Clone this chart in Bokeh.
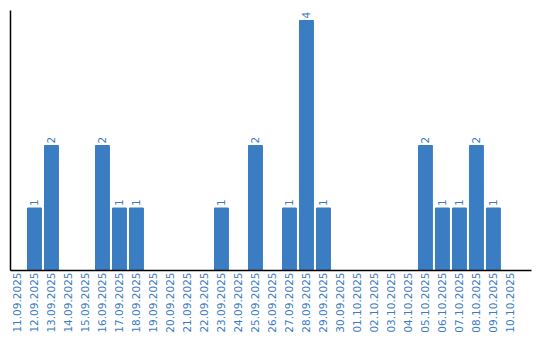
from math import pi
from bokeh.plotting import figure
from bokeh.models import ColumnDataSource, Range1d, FixedTicker
from bokeh.core.properties import value
from bokeh.embed import file_html
from bokeh.resources import INLINE

dates = ["11.09.2025", "12.09.2025", "13.09.2025", "14.09.2025", "15.09.2025",
         "16.09.2025", "17.09.2025", "18.09.2025", "19.09.2025", "20.09.2025",
         "21.09.2025", "22.09.2025", "23.09.2025", "24.09.2025", "25.09.2025",
         "26.09.2025", "27.09.2025", "28.09.2025", "29.09.2025", "30.09.2025",
         "01.10.2025", "02.10.2025", "03.10.2025", "04.10.2025", "05.10.2025",
         "06.10.2025", "07.10.2025", "08.10.2025", "09.10.2025", "10.10.2025"]
counts = [0, 1, 2, 0, 0, 2, 1, 1, 0, 0,
          0, 0, 1, 0, 2, 0, 1, 4, 1, 0,
          0, 0, 0, 0, 2, 1, 1, 2, 1, 0]

BLUE = "#3b7dc2"
FONT = "DejaVu Sans"

idx = list(range(len(dates)))
src = ColumnDataSource(dict(x=idx, y=counts))
nz = [(i, c) for i, c in zip(idx, counts) if c > 0]
lab = ColumnDataSource(dict(x=[i for i, _ in nz], y=[c for _, c in nz],
                            t=[str(c) for _, c in nz]))

p = figure(x_range=Range1d(-0.41, 30.24), y_range=Range1d(0, 4.16),
           width=540, height=340, frame_width=521, frame_height=260,
           output_backend="svg", toolbar_location=None,
           min_border_left=10, min_border_right=9, min_border_top=10, min_border_bottom=70)
p.vbar(x="x", top="y", width=0.82, source=src, color=BLUE)
p.text(x="x", y="y", text="t", source=lab, angle=pi/2, text_align="left",
       text_baseline="middle", y_offset=-2, text_color=BLUE,
       text_font=value(FONT), text_font_size="10.5px")

p.xgrid.visible = False
p.ygrid.visible = False
p.outline_line_color = None

p.xaxis.ticker = FixedTicker(ticks=idx)
p.xaxis.major_label_overrides = {i: d for i, d in zip(idx, dates)}
p.xaxis.major_label_orientation = pi/2
p.xaxis.major_label_text_color = BLUE
p.xaxis.major_label_text_font = FONT
p.xaxis.major_label_text_font_size = "10.5px"
p.xaxis.major_tick_line_color = None
p.xaxis.minor_tick_line_color = None
p.xaxis.major_tick_out = 0
p.xaxis.major_tick_in = 0
p.xaxis.major_label_standoff = 2
p.xaxis.axis_line_color = "black"
p.xaxis.axis_line_width = 1.5

p.yaxis.ticker = FixedTicker(ticks=[])
p.yaxis.major_tick_line_color = None
p.yaxis.minor_tick_line_color = None
p.yaxis.major_tick_out = 0
p.yaxis.major_tick_in = 0
p.yaxis.major_label_standoff = 0
p.yaxis.axis_line_color = "black"
p.yaxis.axis_line_width = 1.5

open("out.html", "w").write(file_html(p, INLINE))
